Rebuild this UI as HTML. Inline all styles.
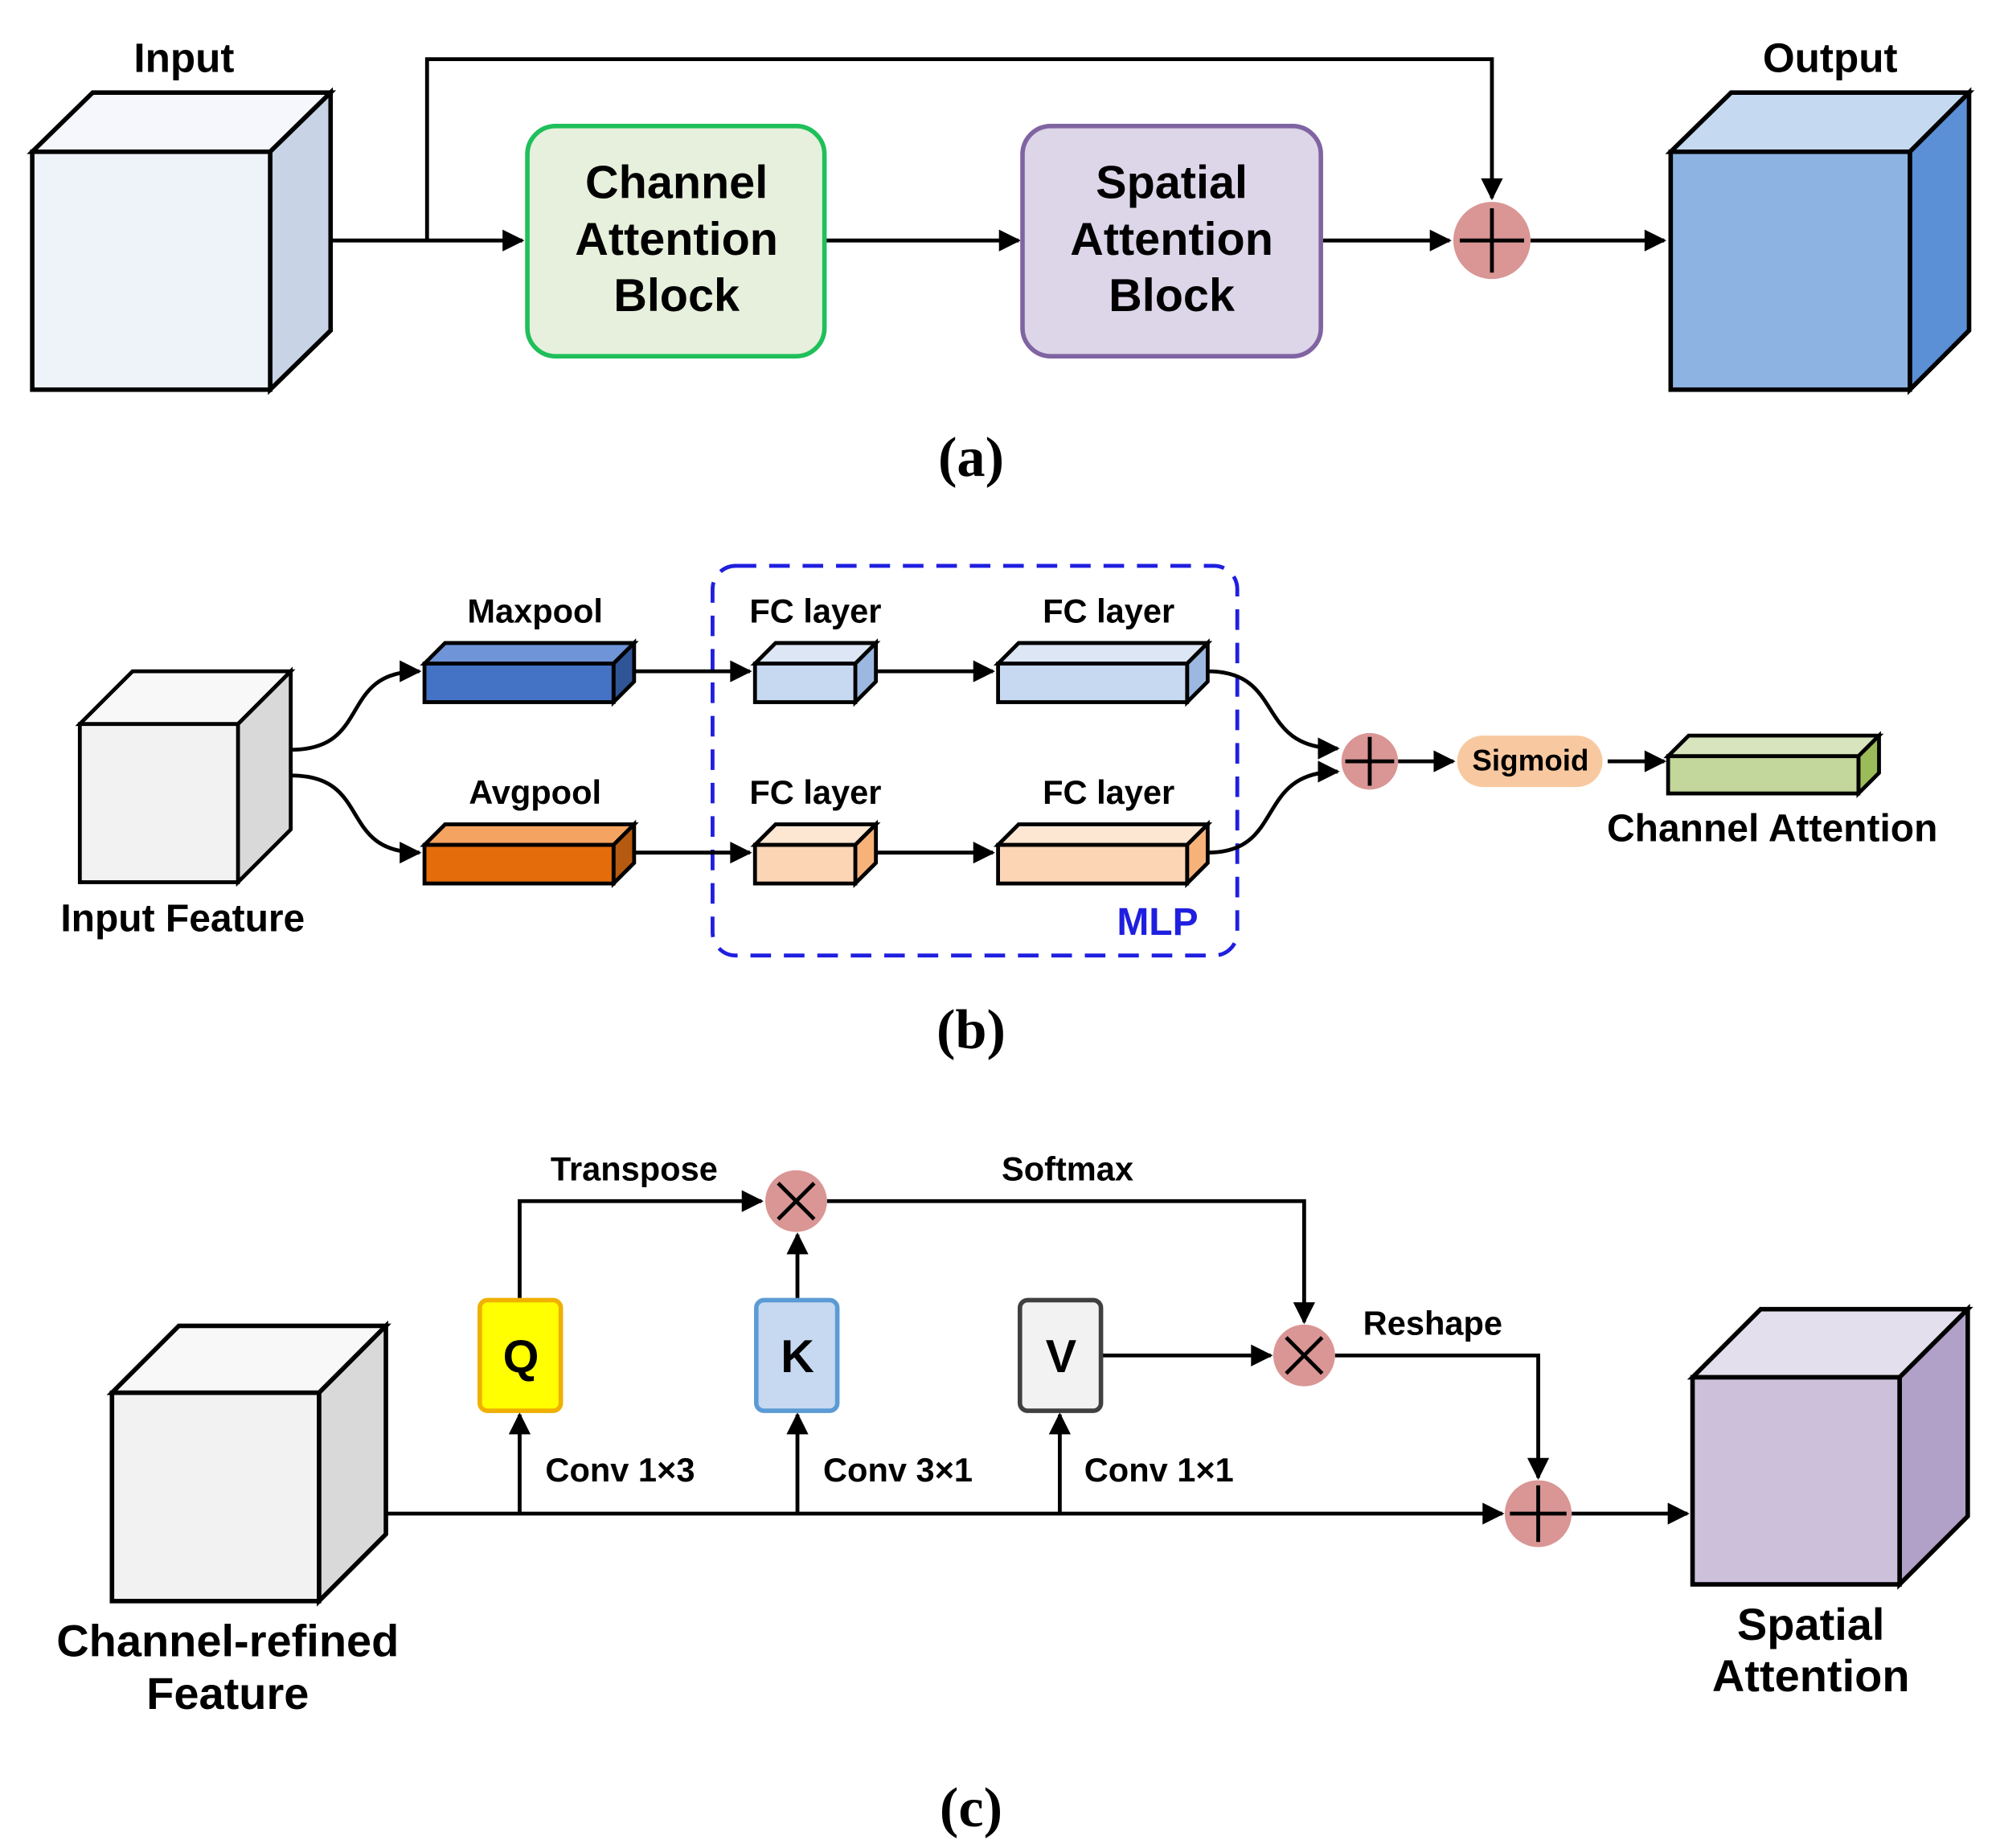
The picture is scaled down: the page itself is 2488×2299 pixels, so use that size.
<!DOCTYPE html>
<html><head><meta charset="utf-8"><style>
html,body{margin:0;padding:0;background:#fff;}
svg{display:block;}
text{font-family:"Liberation Sans",sans-serif;font-weight:bold;fill:#000;}
.ser{font-family:"Liberation Serif",serif;font-weight:bold;}
</style></head><body>
<svg width="2488" height="2299" viewBox="0 0 1555 1437" xmlns="http://www.w3.org/2000/svg">
<defs>
<marker id="a2" viewBox="0 0 10 10" refX="9" refY="5" markerWidth="20" markerHeight="17" orient="auto" markerUnits="userSpaceOnUse">
<path d="M0,0 L10,5 L0,10 z" fill="#000"/></marker>
</defs>
<rect width="1555" height="1437" fill="#fff"/>
<g stroke="#000" stroke-width="3.5" stroke-linejoin="miter">
<polygon points="25,118 72,72 257,72 210,118" fill="#f5f7fc"/>
<polygon points="210,118 257,72 257,257 210,303" fill="#c8d4e6"/>
<rect x="25" y="118" width="185" height="185" fill="#eef2f9"/>
<polygon points="1299,118 1346,72 1531,72 1485,118" fill="#c5d9f1"/>
<polygon points="1485,118 1531,72 1531,257 1485,303" fill="#5b8fd6"/>
<rect x="1299" y="118" width="186" height="185" fill="#8db3e2"/>
</g>
<g stroke="#000" stroke-width="3" fill="none">
<line x1="257" y1="187" x2="406" y2="187" marker-end="url(#a2)"/>
<polyline points="332,187 332,46 1160,46 1160,154" marker-end="url(#a2)"/>
<line x1="641" y1="187" x2="792" y2="187" marker-end="url(#a2)"/>
<line x1="1027" y1="187" x2="1127" y2="187" marker-end="url(#a2)"/>
<line x1="1190" y1="187" x2="1294" y2="187" marker-end="url(#a2)"/>
</g>
<rect x="410" y="98" width="231" height="179" rx="22" fill="#e6f0dc" stroke="#1fbf5a" stroke-width="3.5"/>
<rect x="795" y="98" width="232" height="179" rx="22" fill="#ddd5e8" stroke="#8064a2" stroke-width="3.5"/>
<circle cx="1160" cy="187" r="30" fill="#d99694"/>
<g stroke="#000" stroke-width="3"><line x1="1160" y1="162" x2="1160" y2="212"/><line x1="1135" y1="187" x2="1185" y2="187"/></g>
<g font-size="36" text-anchor="middle">
<text x="526" y="154">Channel</text><text x="526" y="198">Attention</text><text x="526" y="242">Block</text>
<text x="911" y="154">Spatial</text><text x="911" y="198">Attention</text><text x="911" y="242">Block</text>
</g>
<text x="143" y="56" font-size="32" text-anchor="middle">Input</text>
<text x="1423" y="56" font-size="32" text-anchor="middle">Output</text>
<text class="ser" x="755" y="370" font-size="44" text-anchor="middle">(a)</text>

<g stroke="#000" stroke-width="3">
<polygon points="62,563 103,522 226,522 185,563" fill="#f8f8f8"/>
<polygon points="185,563 226,522 226,645 185,686" fill="#d9d9d9"/>
<rect x="62" y="563" width="123" height="123" fill="#f2f2f2"/>
<polygon points="330,516 346,500 493,500 477,516" fill="#6f95d8"/>
<polygon points="477,516 493,500 493,530 477,546" fill="#2f5597"/>
<rect x="330" y="516" width="147" height="30" fill="#4472c4"/>
<polygon points="330,657 346,641 493,641 477,657" fill="#f4a460"/>
<polygon points="477,657 493,641 493,671 477,687" fill="#b55a10"/>
<rect x="330" y="657" width="147" height="30" fill="#e46c0a"/>
<polygon points="587,516 603,500 681,500 665,516" fill="#dce6f4"/>
<polygon points="665,516 681,500 681,530 665,546" fill="#9db8e0"/>
<rect x="587" y="516" width="78" height="30" fill="#c6d9f1"/>
<polygon points="776,516 792,500 939,500 923,516" fill="#dce6f4"/>
<polygon points="923,516 939,500 939,530 923,546" fill="#9db8e0"/>
<rect x="776" y="516" width="147" height="30" fill="#c6d9f1"/>
<polygon points="587,657 603,641 681,641 665,657" fill="#fde6d2"/>
<polygon points="665,657 681,641 681,671 665,687" fill="#f7b27a"/>
<rect x="587" y="657" width="78" height="30" fill="#fcd5b5"/>
<polygon points="776,657 792,641 939,641 923,657" fill="#fde6d2"/>
<polygon points="923,657 939,641 939,671 923,687" fill="#f7b27a"/>
<rect x="776" y="657" width="147" height="30" fill="#fcd5b5"/>
<polygon points="1297,588 1313,572 1461,572 1445,588" fill="#d7e4bd"/>
<polygon points="1445,588 1461,572 1461,601 1445,617" fill="#9bbb59"/>
<rect x="1297" y="588" width="148" height="29" fill="#c3d69b"/>
</g>
<rect x="554" y="440" width="408" height="303" rx="18" fill="none" stroke="#1f1fe0" stroke-width="3" stroke-dasharray="16,10"/>
<g stroke="#000" stroke-width="3" fill="none">
<path d="M226,583 C290,583 262,522 326,522" marker-end="url(#a2)"/>
<path d="M226,603 C290,603 262,663 326,663" marker-end="url(#a2)"/>
<line x1="493" y1="522" x2="583" y2="522" marker-end="url(#a2)"/>
<line x1="493" y1="663" x2="583" y2="663" marker-end="url(#a2)"/>
<line x1="681" y1="522" x2="772" y2="522" marker-end="url(#a2)"/>
<line x1="681" y1="663" x2="772" y2="663" marker-end="url(#a2)"/>
<path d="M939,522 C1000,522 975,582 1040,582" marker-end="url(#a2)"/>
<path d="M939,663 C1000,663 975,600 1040,600" marker-end="url(#a2)"/>
<line x1="1087" y1="592" x2="1130" y2="592" marker-end="url(#a2)"/>
<line x1="1250" y1="592" x2="1294" y2="592" marker-end="url(#a2)"/>
</g>
<circle cx="1065" cy="592" r="22" fill="#d99694"/>
<g stroke="#000" stroke-width="3"><line x1="1065" y1="573" x2="1065" y2="611"/><line x1="1046" y1="592" x2="1084" y2="592"/></g>
<rect x="1133" y="572" width="113" height="40" rx="20" fill="#f8c9a0"/>
<text x="1190" y="599" font-size="23" text-anchor="middle">Sigmoid</text>
<g font-size="26" text-anchor="middle">
<text x="416" y="484">Maxpool</text><text x="416" y="625">Avgpool</text>
<text x="634" y="484">FC layer</text><text x="862" y="484">FC layer</text>
<text x="634" y="625">FC layer</text><text x="862" y="625">FC layer</text>
</g>
<text x="900" y="727" font-size="30" text-anchor="middle" style="fill:#1f1fe0">MLP</text>
<text x="142" y="724" font-size="30" text-anchor="middle">Input Feature</text>
<text x="1378" y="654" font-size="30" text-anchor="middle">Channel Attention</text>
<text class="ser" x="755" y="815" font-size="44" text-anchor="middle">(b)</text>

<g stroke="#000" stroke-width="3.5">
<polygon points="87,1083 139,1031 300,1031 248,1083" fill="#f8f8f8"/>
<polygon points="248,1083 300,1031 300,1193 248,1245" fill="#d9d9d9"/>
<rect x="87" y="1083" width="161" height="162" fill="#f2f2f2"/>
<polygon points="1316,1071 1369,1018 1530,1018 1477,1071" fill="#e4dfec"/>
<polygon points="1477,1071 1530,1018 1530,1179 1477,1232" fill="#b1a0c7"/>
<rect x="1316" y="1071" width="161" height="161" fill="#ccc0da"/>
</g>
<g stroke="#000" stroke-width="3" fill="none">
<line x1="300" y1="1177" x2="1168" y2="1177" marker-end="url(#a2)"/>
<line x1="1222" y1="1177" x2="1312" y2="1177" marker-end="url(#a2)"/>
<line x1="404" y1="1177" x2="404" y2="1100" marker-end="url(#a2)"/>
<line x1="620" y1="1177" x2="620" y2="1100" marker-end="url(#a2)"/>
<line x1="824" y1="1177" x2="824" y2="1100" marker-end="url(#a2)"/>
<polyline points="404,1011 404,934 592,934" marker-end="url(#a2)"/>
<line x1="620" y1="1011" x2="620" y2="960" marker-end="url(#a2)"/>
<polyline points="643,934 1014,934 1014,1028" marker-end="url(#a2)"/>
<line x1="856" y1="1054" x2="988" y2="1054" marker-end="url(#a2)"/>
<polyline points="1038,1054 1196,1054 1196,1149" marker-end="url(#a2)"/>
</g>
<rect x="373" y="1011" width="63" height="86" rx="6" fill="#ffff00" stroke="#f0b000" stroke-width="3.5"/>
<rect x="588" y="1011" width="63" height="86" rx="6" fill="#c6d9f1" stroke="#5b9bd5" stroke-width="3.5"/>
<rect x="793" y="1011" width="63" height="86" rx="6" fill="#f2f2f2" stroke="#404040" stroke-width="3.5"/>
<g font-size="36" text-anchor="middle">
<text x="405" y="1067">Q</text><text x="620" y="1067">K</text><text x="825" y="1067">V</text>
</g>
<circle cx="619" cy="934" r="24" fill="#d99694"/>
<circle cx="1014" cy="1054" r="24" fill="#d99694"/>
<circle cx="1196" cy="1177" r="26" fill="#d99694"/>
<g stroke="#000" stroke-width="3">
<line x1="605" y1="920" x2="633" y2="948"/><line x1="633" y1="920" x2="605" y2="948"/>
<line x1="1000" y1="1040" x2="1028" y2="1068"/><line x1="1028" y1="1040" x2="1000" y2="1068"/>
<line x1="1196" y1="1155" x2="1196" y2="1199"/><line x1="1174" y1="1177" x2="1218" y2="1177"/>
</g>
<g font-size="26">
<text x="424" y="1152">Conv 1×3</text><text x="640" y="1152">Conv 3×1</text><text x="843" y="1152">Conv 1×1</text>
<text x="493" y="918" text-anchor="middle">Transpose</text>
<text x="830" y="918" text-anchor="middle">Softmax</text>
<text x="1114" y="1038" text-anchor="middle">Reshape</text>
</g>
<g font-size="35" text-anchor="middle">
<text x="177" y="1288">Channel-refined</text><text x="177" y="1329">Feature</text>
<text x="1408" y="1275">Spatial</text><text x="1408" y="1315">Attention</text>
</g>
<text class="ser" x="755" y="1420" font-size="44" text-anchor="middle">(c)</text>
</svg>
</body></html>
